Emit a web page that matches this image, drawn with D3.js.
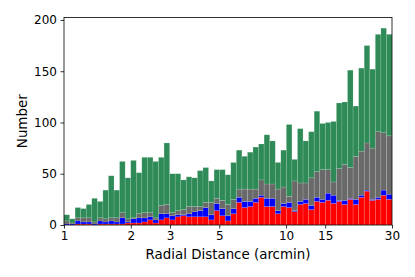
<!DOCTYPE html>
<html>
<head>
<meta charset="utf-8">
<script src="https://cdn.jsdelivr.net/npm/d3@7"></script>
<style>
  body { margin: 0; background: #fff; }
  text { font-family: "DejaVu Sans", sans-serif; fill: #000; }
</style>
</head>
<body>
<div class="chart"></div>
<script>
// counts per log-spaced bin (59 bins from 1 to 30 arcmin), stacked red -> blue -> gray -> green
var redCounts = [0,0,1,1,1,0,1,1,1,1,1,2,2,
  2,3,5,2,5,7,5,8,9,8,8,8,
  8,5,14,9,4,11,22,17,18,22,27,
  18,18,11,18,17,13,20,21,15,23,22,24,
  21,23,20,25,20,27,33,24,25,29,25];
var blueCounts = [1,1,3,2,2,1,3,2,3,2,6,1,4,
  5,4,3,3,6,4,4,2,1,3,5,6,
  9,5,7,7,5,5,5,6,5,4,2,
  8,8,3,3,5,1,3,4,4,4,3,7,
  8,1,4,1,5,2,1,1,2,5,5];
var grayCounts = [3,1,3,4,4,2,3,3,3,4,5,3,1,
  4,5,4,2,8,9,3,4,5,7,5,4,
  5,12,5,8,11,9,8,12,12,9,15,
  14,14,21,16,6,29,18,16,27,25,29,23,
  13,31,35,30,42,43,46,50,64,56,57];
var greenCounts = [6,4,10,9,13,23,16,28,41,27,50,40,56,
  40,54,54,55,47,60,38,36,29,29,28,35,
  34,21,28,30,29,36,38,32,36,41,35,
  48,42,26,36,70,21,53,41,45,59,45,46,
  59,64,61,95,49,81,95,77,95,102,99];

var xTicks = [1, 2, 3, 5, 10, 15, 30];
var yTicks = [0, 50, 100, 150, 200];
var rMin = 1, rMax = 30, nBins = 59;

var width = 415,
    height = 277,
    margin = {left: 64, right: 23, top: 17.5, bottom: 52};

var svg = d3.select(".chart").append("svg")
    .attr("width", width)
    .attr("height", height);

var x = d3.scaleLog()
    .domain([rMin, rMax])
    .range([margin.left, width - margin.right]);

var y = d3.scaleLinear()
    .domain([0, 202.4])
    .range([height - margin.bottom, margin.top]);

var rows = redCounts.map(function(d, i) {
  return {
    lo: Math.pow(rMax / rMin, i / nBins) * rMin,
    hi: Math.pow(rMax / rMin, (i + 1) / nBins) * rMin,
    red: d,
    blue: blueCounts[i],
    gray: grayCounts[i],
    green: greenCounts[i]
  };
});

var colors = {red: "#ff0000", blue: "#0000ff", gray: "#696969", green: "#2e8b57"};
var stack = d3.stack().keys(["red", "blue", "gray", "green"]);
var layers = stack(rows);

svg.selectAll("g.layer")
    .data(layers)
    .enter().append("g")
    .attr("class", "layer")
    .attr("fill", function(d) { return colors[d.key]; })
  .selectAll("rect")
    .data(function(d) { return d; })
    .enter().append("rect")
    .attr("x", function(d) { return x(d.data.lo); })
    .attr("width", function(d) { return x(d.data.hi) - x(d.data.lo); })
    .attr("y", function(d) { return y(d[1]); })
    .attr("height", function(d) { return y(d[0]) - y(d[1]); })
    .attr("stroke", "#ffffff")
    .attr("stroke-opacity", 0.22)
    .attr("stroke-width", 0.6);

// axes
var xAxis = d3.axisBottom(x)
    .tickValues(xTicks)
    .tickFormat(d3.format("d"))
    .tickSize(3.5)
    .tickPadding(3);

var yAxis = d3.axisLeft(y)
    .tickValues(yTicks)
    .tickSize(3.5)
    .tickPadding(3.5);

var gx = svg.append("g")
    .attr("transform", "translate(0," + (height - margin.bottom) + ")")
    .call(xAxis);
var gy = svg.append("g")
    .attr("transform", "translate(" + margin.left + ",0)")
    .call(yAxis);

[gx, gy].forEach(function(g) {
  g.select(".domain").remove();
  g.selectAll(".tick line").attr("stroke", "#000").attr("stroke-width", 0.8);
  g.selectAll(".tick text")
    .style("font-family", "DejaVu Sans")
    .style("font-size", "12px")
    .attr("fill", "#000");
});

// frame
svg.append("rect")
    .attr("x", margin.left)
    .attr("y", margin.top)
    .attr("width", width - margin.left - margin.right)
    .attr("height", height - margin.top - margin.bottom)
    .attr("fill", "none")
    .attr("stroke", "#000")
    .attr("stroke-width", 0.8);

svg.append("text")
    .attr("x", (margin.left + width - margin.right) / 2)
    .attr("y", 258.7)
    .attr("text-anchor", "middle")
    .style("font-size", "13.4px")
    .text("Radial Distance (arcmin)");

svg.append("text")
    .attr("transform", "translate(26.5," + ((margin.top + height - margin.bottom) / 2) + ") rotate(-90)")
    .attr("text-anchor", "middle")
    .style("font-size", "13.4px")
    .text("Number");
</script>
</body>
</html>
